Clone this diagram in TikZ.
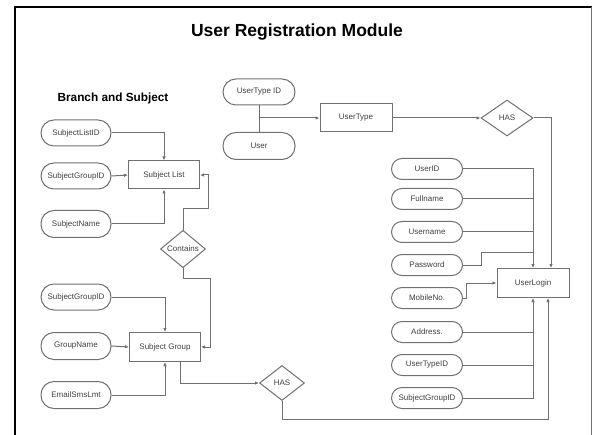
\documentclass[tikz,border=0pt]{standalone}
\usepackage{fontspec}
\setmainfont{Liberation Sans}
\usetikzlibrary{shapes.geometric,arrows.meta}
\definecolor{linegray}{RGB}{112,112,112}
\definecolor{textgray}{RGB}{64,64,64}
\tikzset{
  attr/.style={draw=linegray, line width=1pt, rounded corners=10.5pt, minimum width=71pt,
    minimum height=21pt, inner sep=0pt, text=textgray, font=\fontsize{8}{9}\selectfont},
  tallattr/.style={attr, rounded corners=13pt, minimum height=26pt},
  entity/.style={draw=linegray, line width=1pt, minimum width=72pt, minimum height=28pt,
    inner sep=0pt, text=textgray, font=\fontsize{8}{9}\selectfont},
  rel/.style={draw=linegray, line width=1pt, diamond, inner sep=0pt, text=textgray,
    font=\fontsize{8}{9}\selectfont},
  conn/.style={draw=linegray, line width=1pt},
  arr/.style={conn, -{Latex[length=4pt,width=3.5pt]}}
}
\begin{document}
\begin{tikzpicture}[x=1pt,y=-1pt]
  \useasboundingbox (0,0) rectangle (593,435);

  % Drawing frame
  \draw [line width=2.4pt] (15,435) -- (15,7) -- (592,7);%
  \draw [linegray, line width=0.8pt] (591,7) -- (591,435);%

  % Marking titles
  \node (title) at (297,32) {\fontsize{17.5}{20}\selectfont\bfseries User Registration Module};%
  \node (branch) at (113,98) {\fontsize{11.8}{14}\selectfont\bfseries Branch and Subject};%

  % Drawing user type part
  \node [tallattr, minimum width=72pt] (utypeid) at (259,92) {UserType ID};%
  \node [tallattr, minimum width=72pt, minimum height=27pt] (user) at (259,146) {User};%
  \node [entity] (utype) at (356,118) {UserType};%
  \node [rel, minimum width=52pt, minimum height=36pt] (hasone) at (507,118) {HAS};%

  % Drawing user login part
  \node [entity, minimum height=29pt] (login) at (533,283) {UserLogin};%
  \node [attr] (userid) at (427,169) {UserID};%
  \node [attr] (fullname) at (427,199) {Fullname};%
  \node [attr] (username) at (427,232) {Username};%
  \node [attr] (password) at (427,265) {Password};%
  \node [attr] (mobile) at (427,298) {MobileNo.};%
  \node [attr] (address) at (427,332) {Address.};%
  \node [attr] (utypeidtwo) at (427,365) {UserTypeID};%
  \node [attr] (sgidright) at (427,398) {SubjectGroupID};%
  \coordinate (pwdjoin) at (533,252);%

  % Drawing subject list part
  \node [tallattr, minimum width=70pt] (slistid) at (76,133) {SubjectListID};%
  \node [tallattr, minimum width=70pt] (sgroupid) at (76,176) {SubjectGroupID};%
  \node [tallattr, minimum width=70pt, minimum height=27pt] (sname) at (76,224) {SubjectName};%
  \node [entity, minimum width=71pt] (slist) at (164,175) {Subject List};%
  \node [rel, minimum width=45pt, minimum height=31pt] (contains) at (183,249) {Contains};%

  % Drawing subject group part
  \node [tallattr, minimum width=70pt] (sgroupidtwo) at (76,297) {SubjectGroupID};%
  \node [tallattr, minimum width=70pt, minimum height=27pt] (gname) at (76,346) {GroupName};%
  \node [tallattr, minimum width=70pt, minimum height=27pt] (email) at (76,395) {EmailSmsLmt};%
  \node [entity, minimum width=71pt, minimum height=29pt] (sgroup) at (165,347) {Subject Group};%
  \node [rel, minimum width=45pt, minimum height=35pt] (hastwo) at (282,383) {HAS};%

  % Drawing lines of user type
  \draw [conn] (utypeid.south) -- (user.north);%
  \draw [arr] (utypeid.south |- utype.west) -- (utype.west);%
  \draw [arr] (utype.east) -- (hasone.west);%
  \draw [arr] (hasone.east) -| ([xshift=18pt]login.north);%

  % Drawing lines of user login
  \draw [arr] (userid.east) -| (login.north);%
  \draw [conn] (fullname.east) -- (fullname.east -| login.north);%
  \draw [conn] (username.east) -- (username.east -| login.north);%
  \draw [conn] (password.east) -- ++(18,0) |- (pwdjoin);%
  \draw [arr] (mobile.east) -- ++(3,0) |- (login.west);%
  \draw [arr] (sgidright.east) -| (login.south);%
  \draw [conn] (address.east) -- (address.east -| login.south);%
  \draw [conn] (utypeidtwo.east) -- (utypeidtwo.east -| login.south);%
  \draw [arr] (hastwo.south) -- ++(0,18) -| ([xshift=15pt]login.south);%

  % Drawing lines of subject list
  \draw [arr] (slistid.east) -| (slist.north);%
  \draw [arr] (sgroupid.east) -- (slist.west);%
  \draw [arr] (sname.east) -| (slist.south);%
  \draw [arr] (contains.north) -- ++(0,-21) -| ([xshift=8pt]slist.east) -- (slist.east);%

  % Drawing lines of subject group
  \draw [arr] (contains.south) -- ++(0,10) -| ([xshift=9pt]sgroup.east) -- (sgroup.east);%
  \draw [arr] (sgroupidtwo.east) -| (sgroup.north);%
  \draw [arr] (gname.east) -- (sgroup.west);%
  \draw [arr] (email.east) -| (sgroup.south);%
  \draw [arr] ([xshift=15pt]sgroup.south) |- (hastwo.west);%
\end{tikzpicture}
\end{document}
